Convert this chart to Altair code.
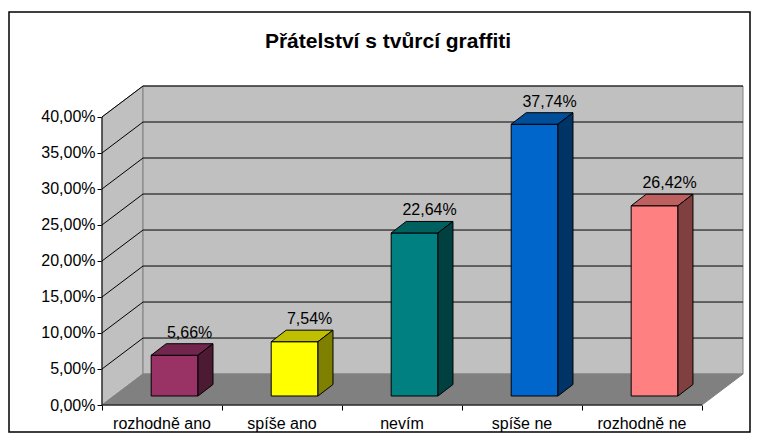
import altair as alt
import pandas as pd

# ---- data ----
categories = ["rozhodně ano", "spíše ano", "nevím", "spíše ne", "rozhodně ne"]
values = [5.66, 7.54, 22.64, 37.74, 26.42]
front_colors = ["#993366", "#ffff00", "#008080", "#0066cc", "#ff8080"]
top_colors = ["#73264d", "#bfbf00", "#006060", "#004d99", "#bf6060"]
side_colors = ["#4d1a33", "#808000", "#004040", "#003366", "#804040"]
y_ticks = [0, 5, 10, 15, 20, 25, 30, 35, 40]
title_text = "Přátelství s tvůrcí graffiti"

# ---- 3D pseudo-perspective geometry (data units) ----
n = len(categories)
YMAX = y_ticks[-1]
DX = 0.342      # wall depth along category axis
DY = 4.3        # wall depth along value axis
BAR_X0 = 0.41   # bar front-left inside a category slot
BAR_X1 = 0.80   # bar front-right
BAR_BASE = 1.25 # bar sits a bit behind the front floor edge
BDX = 0.125     # bar depth (x)
BDY = 1.6       # bar depth (y)

FONT = "Liberation Sans"

xs = alt.Scale(domain=[0, n + DX], nice=False, zero=False)
ys = alt.Scale(domain=[0, YMAX + DY], nice=False, zero=False)

xaxis = alt.Axis(values=list(range(n + 1)), labels=False, ticks=True, tickSize=5,
                 tickColor="black", tickWidth=1, domain=False, grid=False, title=None)
yaxis = alt.Axis(values=y_ticks,
                 labelExpr="replace(format(datum.value, '.2f'), '.', ',') + '%'",
                 tickSize=5, tickColor="black", tickWidth=1, domain=False, grid=False,
                 labelFont=FONT, labelFontSize=16, labelColor="black", labelPadding=2,
                 title=None)


def X(f="x"):
    return alt.X(f + ":Q", scale=xs, axis=xaxis)


def Y(f="y"):
    return alt.Y(f + ":Q", scale=ys, axis=yaxis)


# walls & floor
left_wall = pd.DataFrame({"x": [0, DX], "y": [0, DY], "y2": [YMAX, YMAX + DY]})
back_wall = pd.DataFrame({"x": [DX], "x2": [n + DX], "y": [DY], "y2": [YMAX + DY]})
floor = pd.DataFrame({"x": [0, DX, n, n + DX], "y": [0, 0, 0, DY], "y2": [0, DY, DY, DY]})

grid_rows = []
for v in y_ticks[1:]:
    grid_rows += [{"v": v, "x": 0, "y": v}, {"v": v, "x": DX, "y": v + DY},
                  {"v": v, "x": n + DX, "y": v + DY}]
grid = pd.DataFrame(grid_rows)

fronts, tops, sides, labels, cats = [], [], [], [], []
for i, (c, v) in enumerate(zip(categories, values)):
    xl, xr = i + BAR_X0, i + BAR_X1
    yb, yt = BAR_BASE, BAR_BASE + v
    fronts.append({"id": i, "x": xl, "x2": xr, "y": yb, "y2": yt, "color": front_colors[i]})
    tops += [
        {"id": i, "x": xl, "y": yt, "y2": yt, "color": top_colors[i]},
        {"id": i, "x": xl + BDX, "y": yt, "y2": yt + BDY, "color": top_colors[i]},
        {"id": i, "x": xr, "y": yt, "y2": yt + BDY, "color": top_colors[i]},
        {"id": i, "x": xr + BDX, "y": yt + BDY, "y2": yt + BDY, "color": top_colors[i]},
    ]
    sides += [
        {"id": i, "x": xr, "y": yb, "y2": yt, "color": side_colors[i]},
        {"id": i, "x": xr + BDX, "y": yb + BDY, "y2": yt + BDY, "color": side_colors[i]},
    ]
    labels.append({"x": (xl + xr) / 2 + BDX, "y": yt + BDY,
                   "text": f"{v:.2f}".replace(".", ",") + "%"})
    cats.append({"x": i + 0.5, "y": 0, "text": c})

fronts = pd.DataFrame(fronts)
tops = pd.DataFrame(tops)
sides = pd.DataFrame(sides)
labels = pd.DataFrame(labels)
cats = pd.DataFrame(cats)

l_left = alt.Chart(left_wall).mark_area(fill="#c0c0c0", stroke="#808080", strokeWidth=1).encode(
    x=X(), y=Y(), y2="y2:Q")
l_back = alt.Chart(back_wall).mark_rect(fill="#c0c0c0", stroke="#808080", strokeWidth=1).encode(
    x=X(), x2="x2:Q", y=Y(), y2="y2:Q")
l_floor = alt.Chart(floor).mark_area(fill="#808080", stroke="#808080", strokeWidth=1).encode(
    x=X(), y=Y(), y2="y2:Q")
l_grid = alt.Chart(grid).mark_line(color="black", strokeWidth=1).encode(
    x=X(), y=Y(), detail="v:N")

l_front = alt.Chart(fronts).mark_rect(stroke="black", strokeWidth=1).encode(
    x=X(), x2="x2:Q", y=Y(), y2="y2:Q", color=alt.Color("color:N", scale=None))
l_top = alt.Chart(tops).mark_area(stroke="black", strokeWidth=1).encode(
    x=X(), y=Y(), y2="y2:Q", detail="id:N", color=alt.Color("color:N", scale=None))
l_side = alt.Chart(sides).mark_area(stroke="black", strokeWidth=1).encode(
    x=X(), y=Y(), y2="y2:Q", detail="id:N", color=alt.Color("color:N", scale=None))

l_labels = alt.Chart(labels).mark_text(font=FONT, fontSize=16, color="black",
                                       baseline="alphabetic", dy=-6).encode(
    x=X(), y=Y(), text="text:N")
l_cats = alt.Chart(cats).mark_text(font=FONT, fontSize=16, color="black",
                                   baseline="alphabetic", dy=24).encode(
    x=X(), y=Y(), text="text:N")

x_line = alt.Chart(pd.DataFrame({"x": [0], "x2": [n], "y": [0]})).mark_rule(
    color="black", strokeWidth=1).encode(x=X(), x2="x2:Q", y=Y())
y_line = alt.Chart(pd.DataFrame({"x": [0], "y": [0], "y2": [YMAX]})).mark_rule(
    color="black", strokeWidth=1).encode(x=X(), y=Y(), y2="y2:Q")

frame = alt.Chart(pd.DataFrame({"a": [0]})).mark_rect(
    fill="transparent", stroke="black", strokeWidth=1.5).encode(
    x=alt.value(-93), x2=alt.value(648), y=alt.value(-74), y2=alt.value(346))

title = alt.Chart(pd.DataFrame({"t": [title_text]})).mark_text(
    font=FONT, fontSize=21, fontWeight="bold", color="black",
    align="center", baseline="alphabetic").encode(
    x=alt.value(286), y=alt.value(-38), text="t:N")

chart = alt.layer(
    l_left, l_back, l_floor, l_grid, l_front, l_top, l_side, l_labels, l_cats,
    x_line, y_line, frame, title
).properties(
    width=641, height=319,
    autosize=alt.AutoSizeParams(type="none"),
    padding={"left": 94, "top": 78, "right": 8, "bottom": 30},
    background="white",
).configure_view(strokeWidth=0)

chart.save("out.html", embed_options={"renderer": "svg", "actions": False})
